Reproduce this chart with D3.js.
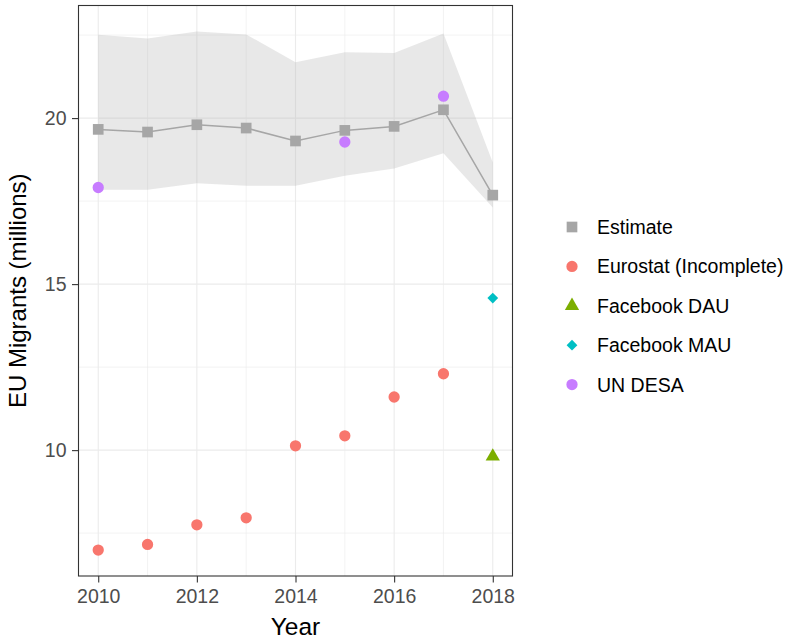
<!DOCTYPE html>
<html>
<head>
<meta charset="utf-8">
<script src="https://cdn.jsdelivr.net/npm/d3@7"></script>
<style>
  html, body { margin: 0; padding: 0; background: #fff; }
  svg { display: block; font-family: "Liberation Sans", Arial, sans-serif; }
</style>
</head>
<body>
<svg id="chart" width="789" height="640"></svg>
<script>
// Years on the x axis
const years = [2010, 2011, 2012, 2013, 2014, 2015, 2016, 2017, 2018];

// Model estimate with its uncertainty band (millions)
const estimate      = [19.66, 19.58, 19.80, 19.70, 19.31, 19.63, 19.75, 20.25, 17.68];
const estimateLower = [17.84, 17.84, 18.04, 17.96, 17.96, 18.26, 18.48, 18.94, 17.31];
const estimateUpper = [22.51, 22.40, 22.61, 22.52, 21.68, 21.98, 21.96, 22.55, 18.66];

// Other sources
const eurostatYears = [2010, 2011, 2012, 2013, 2014, 2015, 2016, 2017];
const eurostat      = [6.99, 7.16, 7.75, 7.96, 10.13, 10.43, 11.60, 12.30];
const undesaYears   = [2010, 2015, 2017];
const undesa        = [17.91, 19.28, 20.66];
const fbDauYears    = [2018];
const fbDau         = [9.81];
const fbMauYears    = [2018];
const fbMau         = [14.58];

const xTicks = [2010, 2012, 2014, 2016, 2018];
const yTicks = [10, 15, 20];

const seriesNames = ["Estimate", "Eurostat (Incomplete)", "Facebook DAU", "Facebook MAU", "UN DESA"];
const seriesColors = ["#A6A6A6", "#F8766D", "#7CAE00", "#00BFC4", "#C77CFF"];

const svg = d3.select("#chart");
const panel = { left: 78.5, right: 512.5, top: 5.5, bottom: 576 };

// ggplot-style 5% expansion
function expand(lo, hi) { const r = hi - lo; return [lo - 0.05 * r, hi + 0.05 * r]; }
const allY = [].concat(estimate, estimateLower, estimateUpper, eurostat, undesa, fbDau, fbMau);
const x = d3.scaleLinear().domain(expand(d3.min(years), d3.max(years))).range([panel.left, panel.right]);
const y = d3.scaleLinear().domain(expand(d3.min(allY), d3.max(allY))).range([panel.bottom, panel.top]);

const g = svg.append("g");

// Grid: minor lines between majors, then majors
const xMinor = d3.range(2011, 2018, 2);
const yMinor = [7.5, 12.5, 17.5, 22.5];
g.selectAll(".xminor").data(xMinor).join("line")
  .attr("x1", d => x(d)).attr("x2", d => x(d))
  .attr("y1", panel.top).attr("y2", panel.bottom)
  .attr("stroke", "#EBEBEB").attr("stroke-width", 0.6);
g.selectAll(".yminor").data(yMinor).join("line")
  .attr("y1", d => y(d)).attr("y2", d => y(d))
  .attr("x1", panel.left).attr("x2", panel.right)
  .attr("stroke", "#EBEBEB").attr("stroke-width", 0.6);
g.selectAll(".xmajor").data(xTicks).join("line")
  .attr("x1", d => x(d)).attr("x2", d => x(d))
  .attr("y1", panel.top).attr("y2", panel.bottom)
  .attr("stroke", "#EBEBEB").attr("stroke-width", 1.1);
g.selectAll(".ymajor").data(yTicks).join("line")
  .attr("y1", d => y(d)).attr("y2", d => y(d))
  .attr("x1", panel.left).attr("x2", panel.right)
  .attr("stroke", "#EBEBEB").attr("stroke-width", 1.1);

// Uncertainty ribbon
const band = years.map((yr, i) => ({ yr, lo: estimateLower[i], hi: estimateUpper[i] }));
g.append("path")
  .datum(band)
  .attr("d", d3.area().x(d => x(d.yr)).y0(d => y(d.lo)).y1(d => y(d.hi)))
  .attr("fill", "#B3B3B3").attr("fill-opacity", 0.3);

// Estimate line
const est = years.map((yr, i) => ({ yr, v: estimate[i] }));
g.append("path")
  .datum(est)
  .attr("d", d3.line().x(d => x(d.yr)).y(d => y(d.v)))
  .attr("fill", "none").attr("stroke", "#A6A6A6").attr("stroke-width", 1.5);

// Point symbols
const sym = {
  square:   d3.symbol().type(d3.symbolSquare).size(114),
  circle:   d3.symbol().type(d3.symbolCircle).size(100),
  triangle: d3.symbol().type(d3.symbolTriangle).size(88),
  diamond:  d3.symbol().type(d3.symbolSquare).size(58)
};

function drawPoints(xs, vs, shape, color, rot) {
  g.append("g").selectAll("path")
    .data(xs.map((yr, i) => ({ yr, v: vs[i] })))
    .join("path")
    .attr("d", sym[shape]())
    .attr("transform", d => `translate(${x(d.yr)},${y(d.v)})` + (rot ? ` rotate(${rot})` : ""))
    .attr("fill", color);
}

drawPoints(years, estimate, "square", seriesColors[0]);
drawPoints(eurostatYears, eurostat, "circle", seriesColors[1]);
drawPoints(fbDauYears, fbDau, "triangle", seriesColors[2]);
drawPoints(fbMauYears, fbMau, "diamond", seriesColors[3], 45);
drawPoints(undesaYears, undesa, "circle", seriesColors[4]);

// Panel border
svg.append("rect")
  .attr("x", panel.left).attr("y", panel.top)
  .attr("width", panel.right - panel.left).attr("height", panel.bottom - panel.top)
  .attr("fill", "none").attr("stroke", "#333333").attr("stroke-width", 1.1);

// Axes
const xAxis = svg.append("g")
  .attr("transform", `translate(0,${panel.bottom})`)
  .call(d3.axisBottom(x).tickValues(xTicks).tickFormat(d3.format("d")).tickSize(6.5).tickPadding(6.5));
const yAxis = svg.append("g")
  .attr("transform", `translate(${panel.left},0)`)
  .call(d3.axisLeft(y).tickValues(yTicks).tickSize(6.5).tickPadding(5.5));
[xAxis, yAxis].forEach(a => {
  a.select(".domain").remove();
  a.selectAll(".tick line").attr("stroke", "#333333").attr("stroke-width", 1.1);
  a.selectAll(".tick text").attr("fill", "#4D4D4D")
    .style("font-size", "19.5px").style("font-family", "Liberation Sans, Arial, sans-serif");
});

// Axis titles
svg.append("text")
  .attr("x", (panel.left + panel.right) / 2).attr("y", 635)
  .attr("text-anchor", "middle")
  .style("font-size", "24.5px").attr("fill", "#000")
  .text("Year");
svg.append("text")
  .attr("transform", `translate(26,${(panel.top + panel.bottom) / 2}) rotate(-90)`)
  .attr("text-anchor", "middle")
  .style("font-size", "24px").attr("fill", "#000")
  .text("EU Migrants (millions)");

// Legend
const legendShapes = ["square", "circle", "triangle", "diamond", "circle"];
const legend = svg.append("g");
seriesNames.forEach((name, i) => {
  const ly = 227 + i * 39.4;
  legend.append("path")
    .attr("d", sym[legendShapes[i]]())
    .attr("transform", `translate(572,${ly})` + (legendShapes[i] === "diamond" ? " rotate(45)" : ""))
    .attr("fill", seriesColors[i]);
  legend.append("text")
    .attr("x", 597).attr("y", ly)
    .attr("dy", "0.36em")
    .style("font-size", "19.5px").attr("fill", "#000")
    .text(name);
});
</script>
</body>
</html>
